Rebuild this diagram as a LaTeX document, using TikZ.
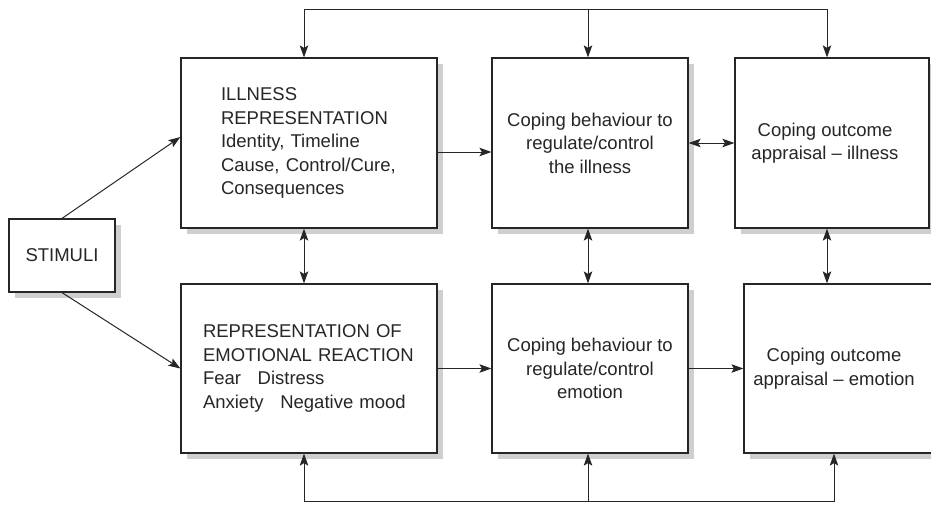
\documentclass[tikz,border=0pt]{standalone}
\usepackage{fontspec}
\setmainfont{Liberation Sans}
\usetikzlibrary{arrows.meta,shadows}
\begin{document}
\begin{tikzpicture}[x=1pt,y=-1pt,
  line width=1pt, color=black!85,
  box/.style={draw, line width=1.2pt, fill=white, inner sep=0pt,
    drop shadow={shadow xshift=6pt, shadow yshift=-6pt, fill=black!19, opacity=1}},
  txt/.style={font=\fontsize{18.5}{23.5}\selectfont},
  tip/.tip={Stealth[length=12pt,width=8.5pt,inset=2.5pt]},
  arr/.style={-tip},
  darr/.style={tip-tip}]

\useasboundingbox (0,0) rectangle (931,506);

% boxes
\node[box, txt, minimum width=106pt, minimum height=73pt] (stim) at (62,255.5) {STIMULI};
\node[box, txt, minimum width=256pt, minimum height=170pt, text width=176pt, inner xsep=40pt, align=left]
  (ill) at (309,143) {ILLNESS\\REPRESENTATION\\Identity, Timeline\\Cause, Control/Cure,\\Consequences};
\node[box, txt, minimum width=256pt, minimum height=169pt, text width=212pt, inner xsep=22pt, align=left]
  (emo) at (309,368.5) {REPRESENTATION OF\\EMOTIONAL REACTION\\Fear\hspace{0.9em}Distress\\Anxiety\hspace{0.9em}Negative mood};
\node[box, txt, minimum width=196pt, minimum height=170pt, align=center]
  (cbi) at (590,143) {Coping behaviour to\\regulate/control\\the illness};
\node[box, txt, minimum width=196pt, minimum height=169pt, align=center]
  (cbe) at (590,368.5) {Coping behaviour to\\regulate/control\\emotion};
\node[box, minimum width=194pt, minimum height=170pt,
  label={[txt, align=center, xshift=-7pt]center:{Coping outcome\\appraisal – illness}}]
  (coi) at (832,143) {};
\node[box, minimum width=190pt, minimum height=169pt,
  label={[txt, align=center, xshift=-5pt]center:{Coping outcome\\appraisal – emotion}}]
  (coe) at (839,368.5) {};

% feedback loop corners
\coordinate (t1) at (304,9);
\coordinate (t2) at (588,9);
\coordinate (t3) at (827,9);
\coordinate (b1) at (304,501);
\coordinate (b2) at (588,501);
\coordinate (b3) at (834,501);

% forward connectors
\draw[arr] (stim.north) -- ([yshift=6pt]ill.west);
\draw[arr] (stim.south) -- (emo.west);
\draw[arr] ([yshift=-9pt]ill.east) -- ([yshift=-9pt]ill.east -| cbi.west);
\draw[arr] (emo.east) -- (emo.east -| cbe.west);
\draw[darr] (cbi.east) -- (coi.west);
\draw[arr] (cbe.east) -- (coe.west);

% links between the rows
\draw[darr] (t1 |- ill.south) -- (t1 |- emo.north);
\draw[darr] (t2 |- cbi.south) -- (t2 |- cbe.north);
\draw[darr] (t3 |- coi.south) -- (t3 |- coe.north);

% top feedback loop
\draw[arr] (t2) -- (t1) -- (t1 |- ill.north);
\draw[arr] (t2) -- (t3) -- (t3 |- coi.north);
\draw[arr] (t2) -- (t2 |- cbi.north);

% bottom feedback loop
\draw[arr] (b2) -- (b1) -- (b1 |- emo.south);
\draw[arr] (b2) -- (b3) -- (b3 |- coe.south);
\draw[arr] (b2) -- (b2 |- cbe.south);
\end{tikzpicture}
\end{document}
